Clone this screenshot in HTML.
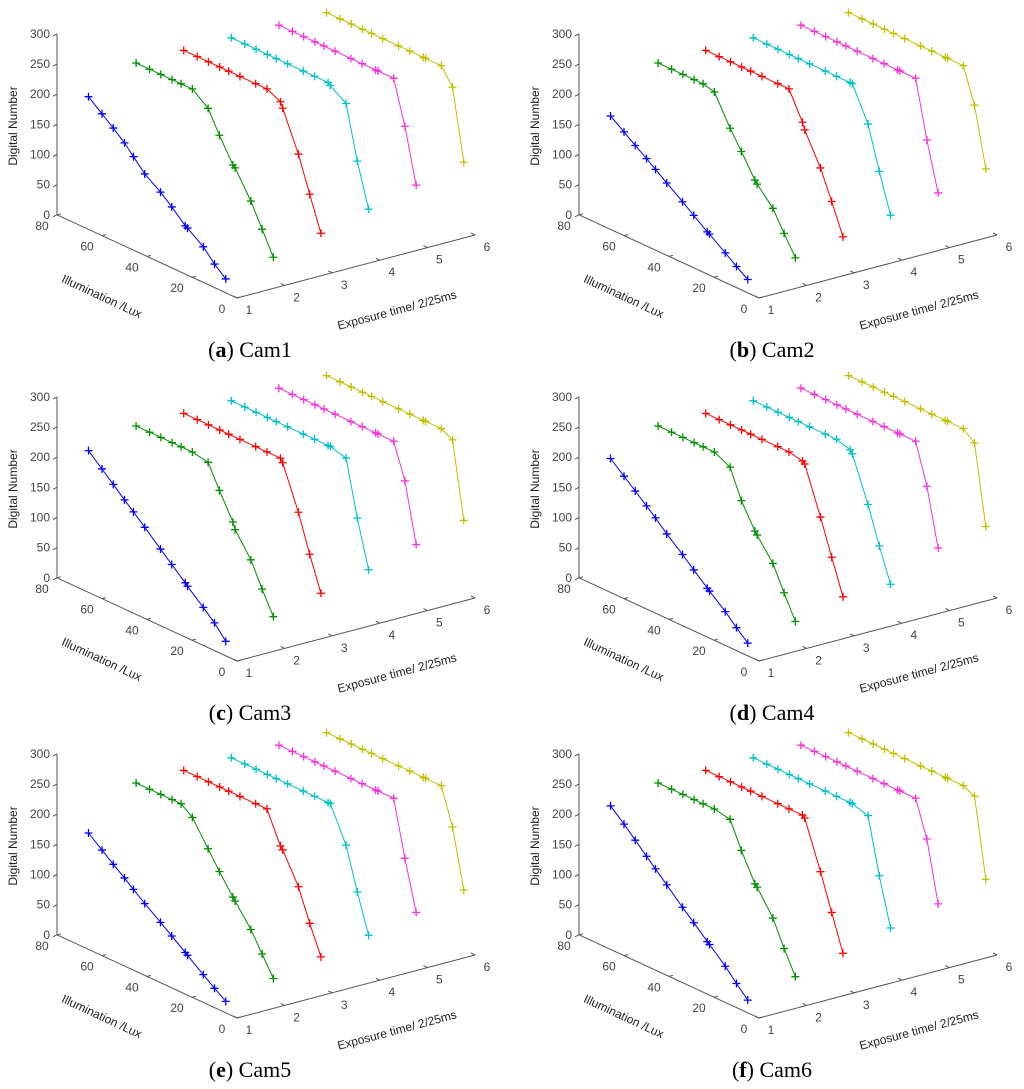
<!DOCTYPE html>
<html><head><meta charset="utf-8"><title>Camera response curves</title>
<style>
html,body{margin:0;padding:0;background:#fff;}
svg{display:block;}
.tick{font-family:"Liberation Sans",sans-serif;font-size:12px;fill:#444;}
.axl{font-family:"Liberation Sans",sans-serif;font-size:12px;fill:#222;}
.cap{font-family:"Liberation Serif",serif;font-size:22px;fill:#000;}
</style></head>
<body>
<svg id="fig" width="1024" height="1089" viewBox="0 0 1024 1089" xmlns="http://www.w3.org/2000/svg">
<rect width="1024" height="1089" fill="#fff"/>
</svg>
<script>
// Data
const luxLevels = [66,60,55,50,46,41,34,29,23,22,15,10,5];
const exposures = [1,2,3,4,5,6];
const zTicks = [0,50,100,150,200,250,300];
const luxTicks = [0,20,40,60,80];
const expTicks = [1,2,3,4,5,6];
const seriesColors = ["#0000ff","#009000","#ff0000","#00c0c8","#f830dc","#c0c000"];
const panelLetters = ["a","b","c","d","e","f"];
const panelNames = ["Cam1","Cam2","Cam3","Cam4","Cam5","Cam6"];

const cam1 = [
 [220,202,187,171,155,135,117,101,80,78,59,39,23],
 [255,255,255,255,255,255,235,199,160,157,114,76,38],
 [255,255,255,255,255,255,255,255,244,235,171,113,57],
 [255,255,255,255,255,255,255,255,255,252,234,147,76],
 [255,255,255,255,255,255,255,255,255,255,255,184,95],
 [255,255,255,255,255,255,255,255,255,255,255,228,112]];
const cam2 = [
 [188,172,158,145,134,120,101,87,70,68,49,35,22],
 [255,255,255,255,255,250,202,172,135,130,102,69,37],
 [255,255,255,255,255,255,255,255,210,199,148,101,51],
 [255,255,255,255,255,255,255,255,255,255,200,130,66],
 [255,255,255,255,255,255,255,255,255,255,255,161,82],
 [255,255,255,255,255,255,255,255,255,255,255,198,101]];
const cam3 = [
 [235,215,198,181,168,151,127,110,90,86,63,46,24],
 [255,255,255,255,255,255,250,212,170,159,121,81,44],
 [255,255,255,255,255,255,255,255,255,249,179,118,62],
 [255,255,255,255,255,255,255,255,255,255,248,157,80],
 [255,255,255,255,255,255,255,255,255,255,255,198,101],
 [255,255,255,255,255,255,255,255,255,255,255,245,120]];
const cam4 = [
 [222,203,187,171,158,140,118,101,81,78,56,38,21],
 [255,255,255,255,255,255,242,195,155,150,115,75,36],
 [255,255,255,255,255,255,255,255,250,247,171,113,56],
 [255,255,255,255,255,255,255,255,248,243,171,111,56],
 [255,255,255,255,255,255,255,255,255,255,255,189,95],
 [255,255,255,255,255,255,255,255,255,255,255,240,110]];
const cam5 = [
 [193,175,160,146,134,119,100,86,69,66,46,32,19],
 [255,255,255,255,255,241,201,172,140,135,100,68,36],
 [255,255,255,255,255,255,255,255,204,199,150,98,51],
 [255,255,255,255,255,255,255,255,255,255,198,129,66],
 [255,255,255,255,255,255,255,255,255,255,255,164,83],
 [255,255,255,255,255,255,255,255,255,255,255,195,99]];
const cam6 = [
 [238,218,200,182,168,150,125,108,87,84,60,40,21],
 [255,255,255,255,255,255,250,207,162,158,119,77,39],
 [255,255,255,255,255,255,255,255,255,252,175,116,57],
 [255,255,255,255,255,255,255,255,255,255,247,156,78],
 [255,255,255,255,255,255,255,255,255,255,255,196,97],
 [255,255,255,255,255,255,255,255,255,255,255,246,117]];
const allCams = [cam1,cam2,cam3,cam4,cam5,cam6];

const NS = "http://www.w3.org/2000/svg";
const svg = document.getElementById("fig");
const offsets = [[0,0],[522,0],[0,363],[522,363],[0,720],[522,720]];

function proj(e,l,z,ox,oy){
  return [ox+237+47.6*(e-1)-2.25*l, oy+298-12.6*(e-1)-1.04*l-0.603*z];
}
function mk(tag, attrs, parent){
  const el=document.createElementNS(NS,tag);
  for(const k in attrs) el.setAttribute(k,attrs[k]);
  parent.appendChild(el); return el;
}
function txt(parent, x, y, s, cls, anchor, rot){
  const t=mk("text",{x:x,y:y,class:cls,"text-anchor":anchor||"middle"},parent);
  if(rot!==undefined) t.setAttribute("transform","rotate("+rot+" "+x+" "+y+")");
  t.textContent=s; return t;
}

allCams.forEach((cam,pi)=>{
  const [ox,oy]=offsets[pi];
  const g=mk("g",{},svg);
  
  
  const ax=mk("g",{stroke:"#555","stroke-width":"1",fill:"none"},g);
  
  
  const p0=proj(1,80,0,ox,oy), p1=proj(1,80,300,ox,oy), c=proj(1,0,0,ox,oy), e6=proj(6,0,0,ox,oy);
  mk("line",{x1:p0[0],y1:p0[1],x2:p1[0],y2:p1[1]},ax);
  mk("line",{x1:p0[0],y1:p0[1],x2:c[0],y2:c[1]},ax);
  mk("line",{x1:c[0],y1:c[1],x2:e6[0],y2:e6[1]},ax);
  zTicks.forEach(z=>{
    const p=proj(1,80,z,ox,oy);
    mk("line",{x1:p[0],y1:p[1],x2:p[0]-4,y2:p[1]+2},ax);
    const t=txt(g,p[0]-7,p[1]+4,String(z),"tick","end");
    
    
  });
  luxTicks.forEach(l=>{
    const p=proj(1,l,0,ox,oy);
    mk("line",{x1:p[0],y1:p[1],x2:p[0]+4,y2:p[1]-1},ax);
    const t=txt(g,p[0]-15,p[1]+15,String(l),"tick","middle");
    
    
  });
  expTicks.forEach(e=>{
    const p=proj(e,0,0,ox,oy);
    mk("line",{x1:p[0],y1:p[1],x2:p[0]-4,y2:p[1]-2},ax);
    const t=txt(g,p[0]+12,p[1]+16,String(e),"tick","middle");
    
    
  });
  let t=txt(g,ox+17,oy+126,"Digital Number","axl","middle",-90);
  
  
  t=txt(g,ox+100,oy+300,"Illumination /Lux","axl","middle",25);
  
  
  t=txt(g,ox+398,oy+314,"Exposure time/  2/25ms","axl","middle",-15);
  
  
  cam.forEach((vals,si)=>{
    const e=exposures[si], col=seriesColors[si];
    const sg=mk("g",{stroke:col,"stroke-width":"1",fill:"none"},g);
    
    
    const pts=vals.map((v,i)=>proj(e,luxLevels[i],v,ox,oy));
    const pl=mk("polyline",{points:pts.map(p=>p[0].toFixed(1)+","+p[1].toFixed(1)).join(" ")},sg);
    
    
    pts.forEach(p=>{
      const m=mk("path",{d:"M"+(p[0]-4)+" "+p[1]+"h8M"+p[0]+" "+(p[1]-4)+"v8","stroke-width":"1.3"},sg);
      
      
    });
  });
  const cap=mk("text",{x:ox+250,y:oy+357,class:"cap","text-anchor":"middle"},g);
  
  
  cap.appendChild(document.createTextNode("("));
  const b=mk("tspan",{"font-weight":"bold"},cap); b.textContent=panelLetters[pi];
  cap.appendChild(document.createTextNode(") "+panelNames[pi]));
});
</script>
</body></html>
